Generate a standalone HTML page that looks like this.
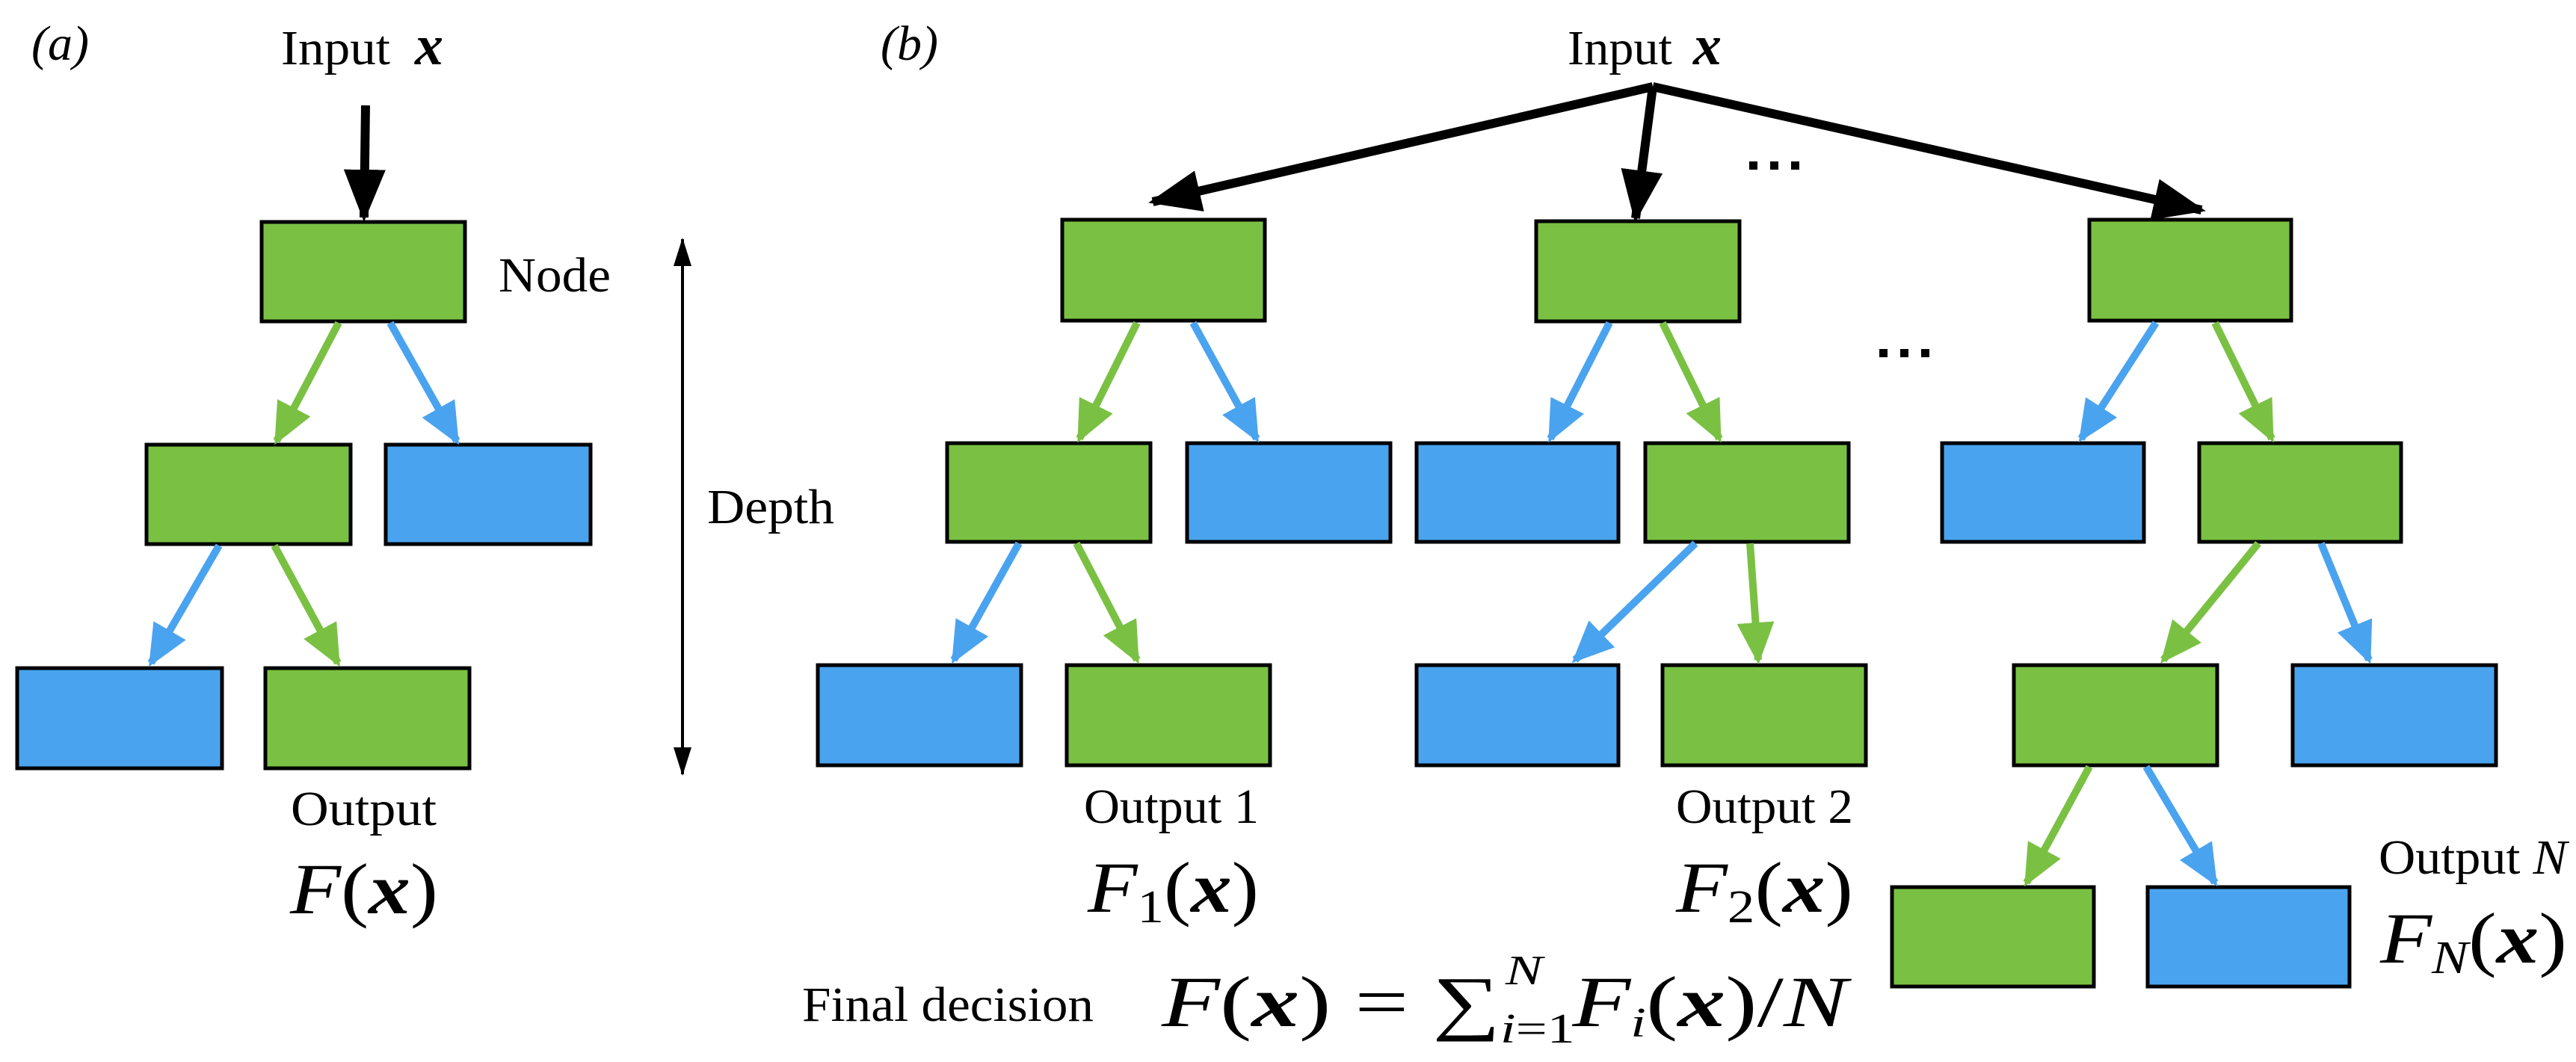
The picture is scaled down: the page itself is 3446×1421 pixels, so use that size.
<!DOCTYPE html>
<html><head><meta charset="utf-8"><style>
html,body{margin:0;padding:0;background:#fff;}
svg{display:block;}
text{font-family:"Liberation Serif","DejaVu Serif","Times New Roman",serif;fill:#000;}
</style></head><body>
<svg width="3446" height="1421" viewBox="0 0 3446 1421" xmlns="http://www.w3.org/2000/svg">
<defs>
<marker id="hk" markerUnits="userSpaceOnUse" markerWidth="80" markerHeight="60" refX="64" refY="28" orient="auto"><path d="M0,0 L70,28 L0,56 z" fill="#000"/></marker>
<marker id="hg" markerUnits="userSpaceOnUse" markerWidth="70" markerHeight="60" refX="50" refY="25" orient="auto"><path d="M0,0 L56,25 L0,50 z" fill="#7AC143"/></marker>
<marker id="hb" markerUnits="userSpaceOnUse" markerWidth="70" markerHeight="60" refX="50" refY="25" orient="auto"><path d="M0,0 L56,25 L0,50 z" fill="#4AA3EF"/></marker>
<marker id="hd" markerUnits="userSpaceOnUse" markerWidth="50" markerHeight="30" refX="36" refY="12" orient="auto-start-reverse"><path d="M0,0 L38,12 L0,24 z" fill="#000"/></marker>
</defs>
<g stroke="#000" stroke-width="5">
<rect x="350" y="297" width="272" height="133" fill="#7AC143"/>
<rect x="196" y="595" width="273" height="133" fill="#7AC143"/>
<rect x="516" y="595" width="274" height="133" fill="#4AA3EF"/>
<rect x="23" y="894" width="274" height="134" fill="#4AA3EF"/>
<rect x="355" y="894" width="273" height="134" fill="#7AC143"/>
<rect x="1421" y="294" width="271" height="135" fill="#7AC143"/>
<rect x="1267" y="593" width="272" height="132" fill="#7AC143"/>
<rect x="1588" y="593" width="272" height="132" fill="#4AA3EF"/>
<rect x="1094" y="890" width="272" height="134" fill="#4AA3EF"/>
<rect x="1427" y="890" width="272" height="134" fill="#7AC143"/>
<rect x="2055" y="296" width="272" height="134" fill="#7AC143"/>
<rect x="1895" y="593" width="270" height="132" fill="#4AA3EF"/>
<rect x="2201" y="593" width="272" height="132" fill="#7AC143"/>
<rect x="1895" y="890" width="270" height="134" fill="#4AA3EF"/>
<rect x="2224" y="890" width="272" height="134" fill="#7AC143"/>
<rect x="2795" y="294" width="270" height="135" fill="#7AC143"/>
<rect x="2598" y="593" width="270" height="132" fill="#4AA3EF"/>
<rect x="2942" y="593" width="270" height="132" fill="#7AC143"/>
<rect x="2694" y="890" width="272" height="134" fill="#7AC143"/>
<rect x="3067" y="890" width="272" height="134" fill="#4AA3EF"/>
<rect x="2531" y="1187" width="270" height="133" fill="#7AC143"/>
<rect x="2873" y="1187" width="270" height="133" fill="#4AA3EF"/>
</g>
<g stroke="#000" stroke-width="12" fill="none">
<line x1="489" y1="141" x2="487" y2="291" marker-end="url(#hk)"/>
<line x1="2211" y1="116" x2="1542" y2="270" marker-end="url(#hk)"/>
<line x1="2211" y1="116" x2="2188" y2="292" marker-end="url(#hk)"/>
<line x1="2211" y1="116" x2="2945" y2="281" marker-end="url(#hk)"/>
</g>
<g stroke-width="10" fill="none">
<line x1="453" y1="432" x2="370" y2="590" stroke="#7AC143" marker-end="url(#hg)"/>
<line x1="522" y1="432" x2="611" y2="590" stroke="#4AA3EF" marker-end="url(#hb)"/>
<line x1="293" y1="730" x2="202" y2="887" stroke="#4AA3EF" marker-end="url(#hb)"/>
<line x1="367" y1="730" x2="452" y2="887" stroke="#7AC143" marker-end="url(#hg)"/>
<line x1="1521" y1="432" x2="1444" y2="587" stroke="#7AC143" marker-end="url(#hg)"/>
<line x1="1596" y1="432" x2="1681" y2="587" stroke="#4AA3EF" marker-end="url(#hb)"/>
<line x1="1363" y1="727" x2="1276" y2="883" stroke="#4AA3EF" marker-end="url(#hb)"/>
<line x1="1440" y1="727" x2="1521" y2="883" stroke="#7AC143" marker-end="url(#hg)"/>
<line x1="2153" y1="432" x2="2074" y2="587" stroke="#4AA3EF" marker-end="url(#hb)"/>
<line x1="2224" y1="432" x2="2300" y2="587" stroke="#7AC143" marker-end="url(#hg)"/>
<line x1="2268" y1="727" x2="2107" y2="883" stroke="#4AA3EF" marker-end="url(#hb)"/>
<line x1="2341" y1="727" x2="2352" y2="883" stroke="#7AC143" marker-end="url(#hg)"/>
<line x1="2884" y1="432" x2="2784" y2="587" stroke="#4AA3EF" marker-end="url(#hb)"/>
<line x1="2963" y1="432" x2="3039" y2="587" stroke="#7AC143" marker-end="url(#hg)"/>
<line x1="3021" y1="727" x2="2894" y2="883" stroke="#7AC143" marker-end="url(#hg)"/>
<line x1="3105" y1="727" x2="3169" y2="883" stroke="#4AA3EF" marker-end="url(#hb)"/>
<line x1="2795" y1="1026" x2="2711" y2="1181" stroke="#7AC143" marker-end="url(#hg)"/>
<line x1="2871" y1="1026" x2="2963" y2="1181" stroke="#4AA3EF" marker-end="url(#hb)"/>
</g>
<line x1="913" y1="320" x2="913" y2="1036" stroke="#000" stroke-width="4" marker-start="url(#hd)" marker-end="url(#hd)"/>
<g fill="#000">
<rect x="2340" y="216" width="11" height="11"/><rect x="2368" y="216" width="11" height="11"/><rect x="2396" y="216" width="11" height="11"/>
<rect x="2514" y="467" width="11" height="11"/><rect x="2542" y="467" width="11" height="11"/><rect x="2570" y="467" width="11" height="11"/>
</g>
<g font-size="66">
<text x="42" y="80" font-style="italic">(a)</text>
<text x="1178" y="80" font-style="italic">(b)</text>
<text x="376" y="86" textLength="146" lengthAdjust="spacingAndGlyphs">Input</text>
<text x="555" y="86" font-style="italic" font-weight="bold" font-size="76">x</text>
<text x="2097" y="86" textLength="140" lengthAdjust="spacingAndGlyphs">Input</text>
<text x="2265" y="86" font-style="italic" font-weight="bold" font-size="76">x</text>
<text x="667" y="390" textLength="150" lengthAdjust="spacingAndGlyphs">Node</text>
<text x="946" y="700" textLength="170" lengthAdjust="spacingAndGlyphs">Depth</text>
<text x="389" y="1104" textLength="195" lengthAdjust="spacingAndGlyphs">Output</text>
<text x="1450" y="1101" textLength="234" lengthAdjust="spacingAndGlyphs">Output 1</text>
<text x="2242" y="1101" textLength="237" lengthAdjust="spacingAndGlyphs">Output 2</text>
<text x="3182" y="1169" textLength="252" lengthAdjust="spacingAndGlyphs">Output <tspan font-style="italic">N</tspan></text>
<text x="1073" y="1366" textLength="390" lengthAdjust="spacingAndGlyphs">Final decision</text>
</g>
<g font-size="96">
<text x="388" y="1222" textLength="198" lengthAdjust="spacingAndGlyphs"><tspan font-style="italic">F</tspan>(<tspan font-style="italic" font-weight="bold">x</tspan>)</text>
<text x="1455" y="1220" textLength="229" lengthAdjust="spacingAndGlyphs"><tspan font-style="italic">F</tspan><tspan font-size="62" dy="14">1</tspan><tspan dy="-14">(</tspan><tspan font-style="italic" font-weight="bold">x</tspan>)</text>
<text x="2242" y="1220" textLength="237" lengthAdjust="spacingAndGlyphs"><tspan font-style="italic">F</tspan><tspan font-size="62" dy="14">2</tspan><tspan dy="-14">(</tspan><tspan font-style="italic" font-weight="bold">x</tspan>)</text>
<text x="3184" y="1288" textLength="250" lengthAdjust="spacingAndGlyphs"><tspan font-style="italic">F</tspan><tspan font-size="62" font-style="italic" dy="14">N</tspan><tspan dy="-14">(</tspan><tspan font-style="italic" font-weight="bold">x</tspan>)</text>
<text x="1554" y="1373" textLength="917" lengthAdjust="spacingAndGlyphs"><tspan font-style="italic">F</tspan>(<tspan font-style="italic" font-weight="bold">x</tspan>) = ∑<tspan font-size="56" font-style="italic" dy="22">i</tspan><tspan font-size="56">=1</tspan><tspan font-size="56" font-style="italic" dx="-70" dy="-78">N</tspan><tspan dy="56" dx="30" font-style="italic">F</tspan><tspan font-size="56" font-style="italic" dy="14">i</tspan><tspan dy="-14">(</tspan><tspan font-style="italic" font-weight="bold">x</tspan>)/<tspan font-style="italic">N</tspan></text>
</g>
</svg>
</body></html>
